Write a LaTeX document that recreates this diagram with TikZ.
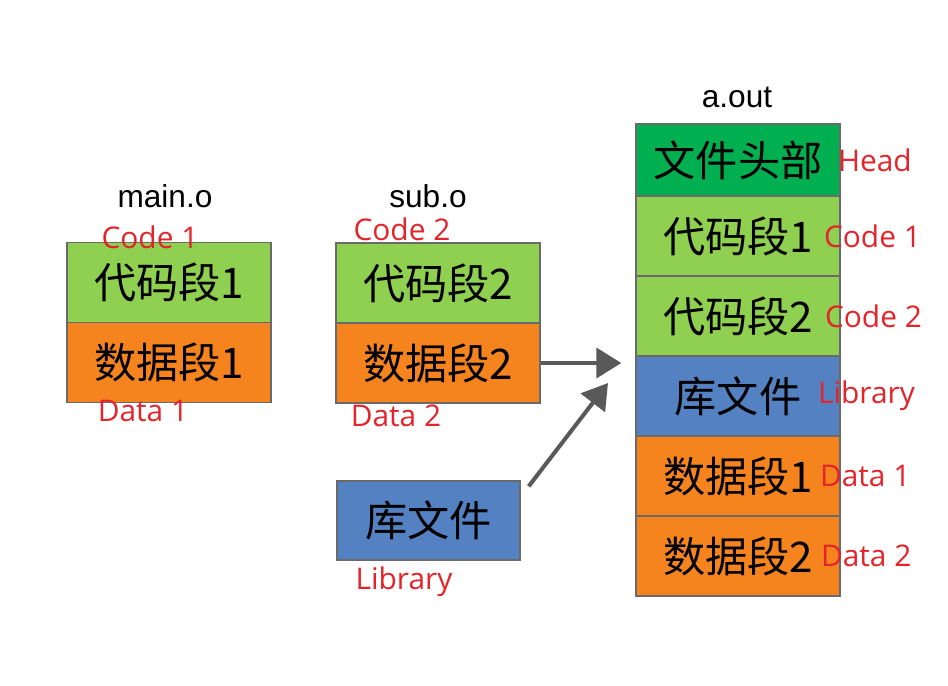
\documentclass[tikz,border=0pt]{standalone}
\usepackage{fontspec}
\setmainfont{Liberation Sans}
\newfontfamily\cjk{Noto Sans CJK SC}
\newfontfamily\lblfont{Open Sans}
\usepackage{tikz}
\usetikzlibrary{arrows.meta,calc,positioning}
\definecolor{codegreen}{HTML}{8FD051}
\definecolor{headgreen}{HTML}{00B050}
\definecolor{dataorange}{HTML}{F5841F}
\definecolor{libblue}{HTML}{5381C2}
\definecolor{segline}{HTML}{6A6A6A}
\definecolor{lblred}{HTML}{E3242B}
\definecolor{arrowgray}{HTML}{595959}
\tikzset{seg/.style={
    draw=segline, line width=0.8pt,
    minimum width=4.08cm, minimum height=1.6cm,
    inner sep=0pt, anchor=center,
    font=\cjk\fontsize{24}{24}\selectfont
  },
  code seg/.style={seg, fill=codegreen},
  data seg/.style={seg, fill=dataorange},
  lib seg/.style={seg, fill=libblue},
  head seg/.style={seg, fill=headgreen, minimum height=1.44cm},
  file name/.style={font=\fontsize{18}{18}\selectfont},
  red label/.style={text=lblred, inner sep=0pt, font=\lblfont\fontsize{17}{17}\selectfont},
  link/.style={arrowgray, line width=2.3pt, -{Triangle[length=0.5cm,width=0.6cm]}}
}
\begin{document}
\begin{tikzpicture}
    \useasboundingbox (0,0) rectangle (18.96,-13.7);
    % main.o
    \node[code seg] (maincode) at (3.38,-5.65) {代码段1};
    \node[data seg, below=-0.8pt of maincode] (maindata) {数据段1};
    \node[file name] (mainname) at (3.3,-3.92) {main.o};
    \node[red label] at (3.0,-4.74) {Code 1};
    \node[red label] at (2.86,-8.22) {Data 1};
    % sub.o
    \node[code seg] (subcode) at (8.76,-5.66) {代码段2};
    \node[data seg, below=-0.8pt of subcode] (subdata) {数据段2};
    \node[file name] (subname) at (8.56,-3.92) {sub.o};
    \node[red label] at (8.04,-4.58) {Code 2};
    \node[red label] at (7.92,-8.32) {Data 2};
    % library
    \node[lib seg, minimum width=3.66cm, minimum height=1.58cm] (libfile) at (8.57,-10.41) {库文件};
    \node[red label] at (8.08,-11.64) {Library};
    % a.out
    \node[head seg] (outhead) at (14.76,-3.2) {文件头部};
    \node[code seg, below=-0.8pt of outhead] (outcode1) {代码段1};
    \node[code seg, below=-0.8pt of outcode1] (outcode2) {代码段2};
    \node[lib seg, below=-0.8pt of outcode2] (outlib) {库文件};
    \node[data seg, below=-0.8pt of outlib] (outdata1) {数据段1};
    \node[data seg, below=-0.8pt of outdata1] (outdata2) {数据段2};
    \node[file name] (outname) at (14.74,-1.94) {a.out};
    \node[red label, anchor=west] at ([xshift=-0.06cm]outhead.east) {Head};
    \node[red label, anchor=west] at ([xshift=-0.34cm]outcode1.east) {Code 1};
    \node[red label, anchor=west] at ([xshift=-0.32cm]outcode2.east) {Code 2};
    \node[red label, anchor=west] at ([xshift=-0.46cm]outlib.east) {Library};
    \node[red label, anchor=west] at ([xshift=-0.42cm]outdata1.east) {Data 1};
    \node[red label, anchor=west] at ([xshift=-0.40cm]outdata2.east) {Data 2};
    % arrows
    \coordinate (tipa) at ([xshift=-0.28cm]outlib.west |- subdata.east);
    \coordinate (tipb) at (12.16,-7.66);
    \coordinate (libstart) at ([xshift=0.16cm,yshift=-0.12cm]libfile.north east);
    \draw[link] (subdata.east) -- (tipa);
    \draw[link] (libstart) -- (tipb);
\end{tikzpicture}
\end{document}
